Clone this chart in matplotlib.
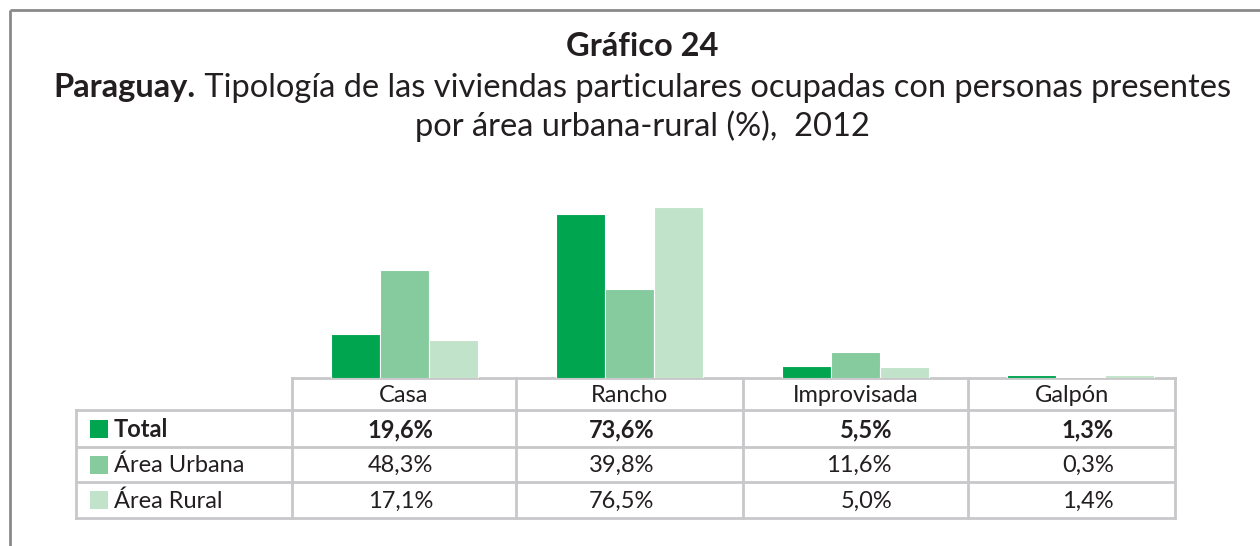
import matplotlib
matplotlib.use("Agg")
import matplotlib.pyplot as plt
import numpy as np

plt.rcParams['font.family'] = ['Lato', 'DejaVu Sans']

categories = ["Casa", "Rancho", "Improvisada", "Galpón"]
series_names = ["Total", "Área Urbana", "Área Rural"]
total = [19.6, 73.6, 5.5, 1.3]
urbana = [48.3, 39.8, 11.6, 0.3]
rural = [17.1, 76.5, 5.0, 1.4]
series = [total, urbana, rural]
colors = ["#00A54F", "#85CB9D", "#C1E3CA"]

W, H = 1260, 546
fig = plt.figure(figsize=(W / 100, H / 100), dpi=100)

# pixel overlay for frame, titles and table
ov = fig.add_axes([0, 0, 1, 1])
ov.set_xlim(0, W)
ov.set_ylim(H, 0)
ov.axis("off")

ov.plot([10, W], [10, 10], color="#8a8a8a", lw=2, solid_capstyle="butt")
ov.plot([10, 10], [10, H], color="#8a8a8a", lw=2, solid_capstyle="butt")

tfs = 23.5
ov.text(642, 47, "Gráfico 24", ha="center", va="center", fontsize=tfs, fontweight="bold", color="#231f20")
ov.text(642, 126, "por área urbana-rural (%),  2012", ha="center", va="center", fontsize=tfs, color="#231f20")

# bold + regular on one line, centred together
renderer = fig.canvas.get_renderer()
t1 = ov.text(0, 88, "Paraguay.", ha="left", va="center", fontsize=tfs, fontweight="bold", color="#231f20")
t2 = ov.text(0, 88, " Tipología de las viviendas particulares ocupadas con personas presentes",
             ha="left", va="center", fontsize=tfs, color="#231f20")
w1 = t1.get_window_extent(renderer).width
w2 = t2.get_window_extent(renderer).width
x0 = 642 - (w1 + w2) / 2
t1.set_x(x0)
t2.set_x(x0 + w1)

# bar axes
centers = np.arange(len(categories))
px_step = 225.6
px_c0 = 404
ax_left, ax_right = 292, 1175
base_y, top_y = 378, 190
ppu = 2.235
ax = fig.add_axes([ax_left / W, (H - base_y) / H, (ax_right - ax_left) / W, (base_y - top_y) / H])
ax.set_xlim((ax_left - px_c0) / px_step, (ax_right - px_c0) / px_step)
ax.set_ylim(0, (base_y - top_y) / ppu)
ax.axis("off")
ax.patch.set_alpha(0)
bw = 49 / px_step
for k, vals in enumerate(series):
    ax.bar(centers + (k - 1) * bw, vals, width=bw, color=colors[k], edgecolor="white", linewidth=0.8)

# table
grid_c = "#c8c8ca"
col_edges = [292, 516, 743, 968, 1175]
row_edges = [378, 410, 447, 482, 518]
label_left = 76
lw = 2
ov.plot([col_edges[0], col_edges[-1]], [row_edges[0], row_edges[0]], color=grid_c, lw=lw)
for y in row_edges[1:]:
    ov.plot([label_left, col_edges[-1]], [y, y], color=grid_c, lw=lw)
for x in col_edges:
    ov.plot([x, x], [row_edges[0], row_edges[-1]], color=grid_c, lw=lw)
ov.plot([label_left, label_left], [row_edges[1], row_edges[-1]], color=grid_c, lw=lw)

fs = 17
for i, cat in enumerate(categories):
    ov.text((col_edges[i] + col_edges[i + 1]) / 2, (row_edges[0] + row_edges[1]) / 2 + 1, cat,
            ha="center", va="center", fontsize=fs, color="#231f20")

value_right = [433, 654, 892, 1114]
for r, (name, vals) in enumerate(zip(series_names, series)):
    yc = (row_edges[r + 1] + row_edges[r + 2]) / 2
    weight = "bold" if r == 0 else "normal"
    ov.add_patch(plt.Rectangle((90, yc - 9), 18, 18, color=colors[r], lw=0))
    ov.text(114, yc + 1, name, ha="left", va="center", fontsize=fs, fontweight=weight, color="#231f20")
    for i, v in enumerate(vals):
        ov.text(value_right[i], yc + 1, f"{v:.1f}%".replace(".", ","), ha="right", va="center",
                fontsize=fs, fontweight=weight, color="#231f20")

fig.savefig("out.png", dpi=100)
